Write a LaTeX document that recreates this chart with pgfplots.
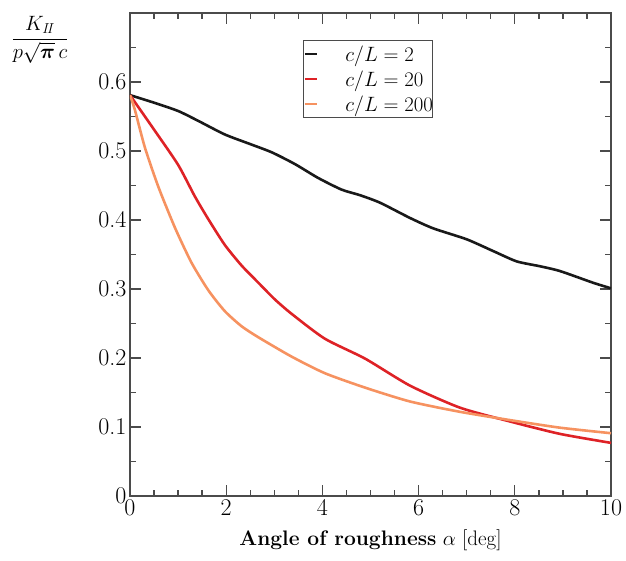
\documentclass[border=0pt]{standalone}
\usepackage{amsmath,amssymb}
\usepackage{pgfplots}
\pgfplotsset{compat=1.18}
\definecolor{kblack}{RGB}{25,25,25}
\definecolor{kred}{RGB}{222,34,38}
\definecolor{korange}{RGB}{246,146,96}
\definecolor{kaxis}{RGB}{75,75,75}
\begin{document}
\begin{tikzpicture}
\begin{axis}[
    scale only axis,
    width=481pt, height=483pt,
    xmin=0, xmax=10, ymin=0, ymax=0.7,
    xtick={0,2,4,6,8,10},
    minor xtick={0.5,1,...,9.5},
    ytick={0,0.1,0.2,0.3,0.4,0.5,0.6},
    yticklabels={0,0.1,0.2,0.3,0.4,0.5,0.6},
    minor ytick={0.05,0.15,0.25,0.35,0.45,0.55,0.65},
    /pgf/number format/assume math mode=true,
    tick align=inside,
    major tick length=11pt,
    minor tick length=6pt,
    axis line style={draw=kaxis, line width=1.6pt},
    every tick/.style={draw=kaxis, line width=1.3pt},
    tick label style={font=\fontsize{24}{24}\selectfont},
    xlabel={\textbf{Angle of roughness} $\alpha$ [deg]},
    xlabel style={font=\fontsize{21}{21}\selectfont, at={(axis description cs:0.5,0)}, anchor=center, yshift=-44pt},
    ylabel={$\dfrac{K_{I\!I}}{p\sqrt{\boldsymbol{\pi}}\,c}$},
    ylabel style={rotate=-90, at={(rel axis cs:-0.187,0.944)}, anchor=center, font=\fontsize{20.74}{21}\selectfont},
    legend style={at={(0.36,0.944)}, anchor=north west, draw=kaxis, line width=1pt,
        font=\fontsize{20.74}{21}\selectfont, inner xsep=0pt, inner ysep=5pt,
        row sep=8pt, nodes={inner xsep=0pt, inner ysep=0pt}},
    legend cell align=left,
    legend image code/.code={\draw[#1, line width=2.6pt] (-2pt,0pt) -- (10pt,0pt); \path (37pt,0pt);},
    every axis plot/.append style={line width=2.6pt, smooth, tension=0.4},
]
% c/L = 2
\addplot[kblack] coordinates {
(0,0.581) (0.5,0.570) (1.0,0.558) (1.41,0.544) (1.97,0.524) (2.5,0.510) (2.95,0.498)
(3.43,0.481) (3.91,0.461) (4.4,0.444) (4.78,0.436) (5.2,0.425) (5.82,0.403)
(6.3,0.388) (7.0,0.372) (7.55,0.355) (8.04,0.340) (8.52,0.333) (8.94,0.326)
(9.63,0.309) (10,0.301)};
% c/L = 20
\addplot[kred] coordinates {
(0,0.581) (0.5,0.531) (1.0,0.480) (1.35,0.434) (1.63,0.401) (1.97,0.364)
(2.32,0.334) (2.67,0.309) (3.01,0.285) (3.36,0.264) (4.05,0.228) (4.89,0.199)
(5.82,0.160) (6.86,0.128) (7.9,0.108) (8.94,0.090) (10,0.077)};
% c/L = 200
\addplot[korange] coordinates {
(0,0.581) (0.1,0.560) (0.31,0.505) (0.59,0.448) (0.94,0.388) (1.28,0.338)
(1.63,0.298) (1.97,0.268) (2.32,0.246) (2.67,0.230) (3.36,0.202) (4.05,0.178)
(4.89,0.157) (5.82,0.137) (6.86,0.122) (7.9,0.110) (8.94,0.099) (10,0.091)};
\legend{$c/L = 2$\hspace{7pt}, $c/L = 20$\hspace{7pt}, $c/L = 200$\hspace{7pt}}
\end{axis}
% margins of the reference page
\path ([xshift=-130pt,yshift=-65pt]current axis.south west) rectangle ([xshift=15pt,yshift=13pt]current axis.north east);
\end{tikzpicture}
\end{document}
